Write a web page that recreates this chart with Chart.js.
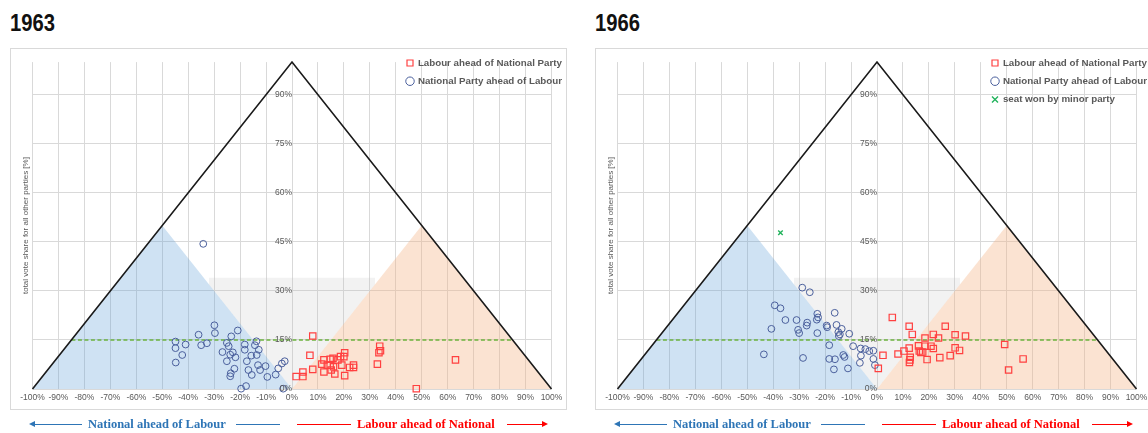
<!DOCTYPE html>
<html>
<head>
<meta charset="utf-8">
<script src="https://cdn.jsdelivr.net/npm/chart.js@4.4.1/dist/chart.umd.min.js"></script>
<style>
  html, body { margin:0; padding:0; background:#fff; }
  body { position:relative; width:1148px; height:433px; overflow:hidden; }
  .year { position:absolute; top:11px; font-family:"Liberation Sans",Arial,sans-serif; font-weight:bold; font-size:23.5px; line-height:24px; color:#111; transform:scaleX(0.86); transform-origin:0 0; }
  .panel { position:absolute; top:48px; width:557px; height:362px; }
  .panel canvas { position:absolute; left:0; top:0; }
  .frame { position:absolute; left:0; top:0; width:557px; height:362px; box-sizing:border-box; border:1px solid #d9d9d9; pointer-events:none; }
  .note { position:absolute; top:416px; height:16px; width:560px; }
  .note span { position:absolute; top:0; font-family:"Liberation Serif","Times New Roman",serif; font-weight:bold; font-size:12.5px; line-height:16px; white-space:nowrap; }
  .seg { position:absolute; top:8px; height:1px; }
  .headL { position:absolute; top:5px; width:0; height:0; border-top:3px solid transparent; border-bottom:3px solid transparent; border-right:6px solid #2e75b6; }
  .headR { position:absolute; top:5px; width:0; height:0; border-top:3px solid transparent; border-bottom:3px solid transparent; border-left:6px solid #ff0000; }
</style>
</head>
<body>
<div class="year" style="left:10px">1963</div>
<div class="year" style="left:595px">1966</div>
<div class="panel" style="left:10px"><canvas id="c1963" width="557" height="362"></canvas><div class="frame"></div></div>
<div class="panel" style="left:595px"><canvas id="c1966" width="557" height="362"></canvas><div class="frame"></div></div>
<div class="note" id="n1963" style="left:10px"></div>
<div class="note" id="n1966" style="left:595px"></div>
<script>
// ---------------- DATA ----------------
// [difference Labour minus National (%), total vote share of all other parties (%)]
const labourAhead1963 = [
  [8.0,16.2],[6.9,10.3],[1.6,3.8],[4.2,3.8],[4.2,5.2],[8.0,6.0],
  [11.5,7.6],[12.3,8.9],[12.3,5.2],[13.6,7.3],[14.7,9.1],[14.7,7.3],[15.1,5.8],[15.8,9.4],
  [16.0,6.8],[16.5,4.6],[17.7,8.9],[18.7,9.9],[19.2,7.3],[20.0,9.9],[20.3,11.1],[20.3,4.1],
  [22.2,6.6],[23.7,7.3],[23.7,6.6],
  [32.9,7.6],[33.8,13.1],[34.1,11.7],[33.5,11.1],
  [47.9,0.1],[63.0,8.9]
];
const nationalAhead1963 = [
  [-34.2,44.4],
  [-44.9,14.5],[-44.9,12.5],[-41.0,13.6],[-42.3,10.4],[-44.8,8.1],
  [-36.0,16.6],[-35.0,13.4],[-32.8,14.0],
  [-29.9,19.5],[-29.7,17.1],
  [-26.8,11.3],[-25.1,14.1],[-24.4,13.1],[-23.4,16.1],[-20.9,17.9],
  [-25.1,8.5],[-23.8,10.5],[-22.8,11.2],[-21.8,9.7],[-22.2,6.2],[-23.6,4.8],[-23.8,3.9],
  [-19.6,0.1],[-17.7,0.9],
  [-18.2,13.6],[-18.2,12.0],[-17.4,8.5],[-15.7,10.2],[-16.8,5.8],[-15.5,4.3],
  [-14.3,13.4],[-13.7,14.6],[-12.8,12.0],[-13.6,10.4],[-13.1,7.3],[-12.3,5.8],
  [-10.2,7.0],[-9.5,3.7],[-6.3,4.4],[-5.3,6.3],[-3.9,7.8],[-2.8,8.5],[-3.4,0.1]
];
const labourAhead1966 = [
  [0.5,6.3],[2.3,10.3],[5.9,21.9],[8.1,10.7],[10.4,11.6],[12.4,19.2],[13.6,16.7],
  [12.4,12.5],[12.8,9.7],[12.7,8.9],[12.5,8.1],
  [16.0,13.2],[16.3,11.6],[16.9,11.2],[17.6,11.3],
  [18.5,15.6],[18.5,13.1],[19.3,9.0],[20.8,13.1],[21.7,12.4],[21.7,16.7],[23.7,15.6],[24.2,9.6],
  [26.3,19.2],[28.2,10.2],[30.1,16.6],[30.1,12.6],[31.8,11.8],[34.1,16.2],
  [49.2,13.6],[50.7,5.8],[56.3,9.2]
];
const nationalAhead1966 = [
  [-28.8,31.0],[-25.9,29.6],[-39.4,25.6],[-37.2,24.7],[-35.3,21.1],[-31.0,21.1],
  [-30.4,18.1],[-30.0,17.1],[-26.9,20.3],[-27.1,19.4],
  [-23.0,23.0],[-22.7,21.9],[-23.2,21.2],[-23.0,17.1],
  [-19.4,19.4],[-19.2,18.9],[-16.3,23.3],[-15.6,19.6],[-13.6,18.4],
  [-14.9,17.4],[-14.3,16.7],[-14.7,16.2],[-10.7,16.9],
  [-18.4,13.4],[-9.2,13.1],[-40.7,18.4],[-43.6,10.6],[-28.5,9.5],
  [-18.4,9.2],[-16.6,6.0],[-16.2,9.1],[-13.0,10.4],[-12.5,9.8],[-11.2,6.3],
  [-6.3,12.4],[-4.5,12.2],[-3.0,11.6],[-1.4,11.7],[-6.2,10.2],[-6.6,8.0],[-1.4,9.2],[-0.8,7.3]
];
const minorParty1966 = [[-37.2,47.8]];

const seriesNames = ['Labour ahead of National Party','National Party ahead of Labour','seat won by minor party'];
const yAxisTitle = 'total vote share for all other parties [%]';
const noteLeft = 'National ahead of Labour';
const noteRight = 'Labour ahead of National';

// guide shapes in (difference %, others %) space
const boundaryX = [-100, 0, 100],   boundaryY = [0, 100, 0];
const thresholdX = [-85, 85],       thresholdY = [15, 15];
const nationalZoneX = [-100, -50, 0], nationalZoneY = [0, 50, 0];
const labourZoneX = [0, 50, 100],   labourZoneY = [0, 50, 0];
const marginalX = [-32, 0, 32],     marginalY = [32, 0, 32];
const marginalTop = 34;
const xMin = -100, xMax = 100, xStep = 10;
const yMin = 0, yMax = 100, yStep = 15;

// ---------------- CHART ----------------
const FONT = "'Liberation Sans', Arial, sans-serif";
const GRAY = '#595959';
Chart.defaults.font.family = FONT;

const pts = a => a.map(p => ({x: p[0], y: p[1]}));
const zip = (xs, ys) => xs.map((x, i) => ({x, y: ys[i]}));

function legendPlacer(left, top) {
  return { id: 'legendPlacer', afterLayout(chart) {
    const lg = chart.legend; if (!lg) return;
    lg.left = left; lg.top = top; lg.right = chart.width; lg.bottom = chart.height;
  }};
}

function makeChart(id, labour, national, minor) {
  const clear = 'rgba(0,0,0,0)';
  const datasets = [
    { type:'scatter', label: seriesNames[0], data: pts(labour), pointStyle:'rect', pointRadius:4.5,
      borderColor:'#ff4040', backgroundColor:clear, borderWidth:1.2, inLegend:true, order:0, clip:false },
    { type:'scatter', label: seriesNames[1], data: pts(national), pointStyle:'circle', pointRadius:3.4,
      borderColor:'#4a5f9c', backgroundColor:clear, borderWidth:1.0, inLegend:true, order:0, clip:false }
  ];
  if (minor) datasets.push(
    { type:'scatter', label: seriesNames[2], data: pts(minor), pointStyle:'crossRot', pointRadius:3.2,
      borderColor:'#22b35c', backgroundColor:clear, borderWidth:1.4, inLegend:true, order:0, clip:false });
  datasets.push(
    { type:'line', data: zip(boundaryX, boundaryY), borderColor:'#1a1a1a', borderWidth:1.6, pointRadius:0, fill:false, order:3, clip:false },
    { type:'line', data: zip(thresholdX, thresholdY), borderColor:'#6cb33f', borderDash:[4,2.5], borderWidth:1.5, pointRadius:0, fill:false, order:4 },
    { type:'line', data: zip(nationalZoneX, nationalZoneY), borderColor:clear, backgroundColor:'rgba(91,155,213,0.29)', pointRadius:0, fill:'origin', order:5 },
    { type:'line', data: zip(labourZoneX, labourZoneY), borderColor:clear, backgroundColor:'rgba(244,177,131,0.36)', pointRadius:0, fill:'origin', order:5 },
    { type:'line', data: zip(marginalX, marginalY), borderColor:clear, backgroundColor:'rgba(190,190,190,0.2)', pointRadius:0, fill:{value: marginalTop}, order:6 }
  );
  const tickFont = {family: FONT, size: 8.5};
  return new Chart(document.getElementById(id), {
    type: 'scatter',
    data: { datasets },
    plugins: [legendPlacer(388.5, 1.6)],
    options: {
      responsive:false, animation:false, events:[],
      layout:{ padding:{left:4.5, right:15.5, top:10, bottom:0} },
      plugins:{
        tooltip:{enabled:false},
        legend:{ position:'chartArea', align:'start',
          labels:{ usePointStyle:true, boxWidth:6, boxHeight:6, padding:8.5, color:GRAY,
            font:{family:FONT, size:9.75, weight:'bold'},
            filter:(item, data) => !!data.datasets[item.datasetIndex].inLegend } }
      },
      scales:{
        x:{ type:'linear', position:'bottom', min:xMin, max:xMax,
            ticks:{ stepSize:xStep, autoSkip:false, maxRotation:0, color:GRAY, font:tickFont, padding:4, callback:v => v + '%' },
            grid:{ color:'#d9d9d9', drawTicks:false }, border:{display:false},
            afterFit: s => { s.height = 21; } },
        y:{ type:'linear', position:{x:0}, min:yMin, max:yMax,
            ticks:{ stepSize:yStep, includeBounds:false, color:GRAY, font:tickFont, padding:9, z:1, callback:v => v + '%' },
            grid:{ color:'#d9d9d9', drawTicks:false }, border:{display:false} },
        yTitle:{ type:'linear', position:'left', min:0, max:1,
            ticks:{display:false}, grid:{display:false}, border:{display:false},
            title:{ display:true, text:yAxisTitle, color:GRAY, font:{family:FONT, size:8}, padding:{top:6.7, bottom:0} },
            afterFit: s => { s.width = 18; } }
      }
    }
  });
}

makeChart('c1963', labourAhead1963, nationalAhead1963, null);
makeChart('c1966', labourAhead1966, nationalAhead1966, minorParty1966);

// direction notes under each panel
function note(id) {
  const el = document.getElementById(id);
  const add = (cls, style, text) => { const d = document.createElement(text ? 'span' : 'div'); if (cls) d.className = cls; d.setAttribute('style', style); if (text) d.textContent = text; el.appendChild(d); };
  add('headL', 'left:19px');
  add('seg', 'left:24px;width:48px;background:#2e75b6');
  add('', 'left:78px;color:#2e75b6', noteLeft);
  add('seg', 'left:226px;width:44px;background:#2e75b6');
  add('seg', 'left:287px;width:54px;background:#ff0000');
  add('', 'left:347px;color:#ff0000', noteRight);
  add('seg', 'left:497px;width:36px;background:#ff0000');
  add('headR', 'left:532px');
}
note('n1963'); note('n1966');
</script>
</body>
</html>
